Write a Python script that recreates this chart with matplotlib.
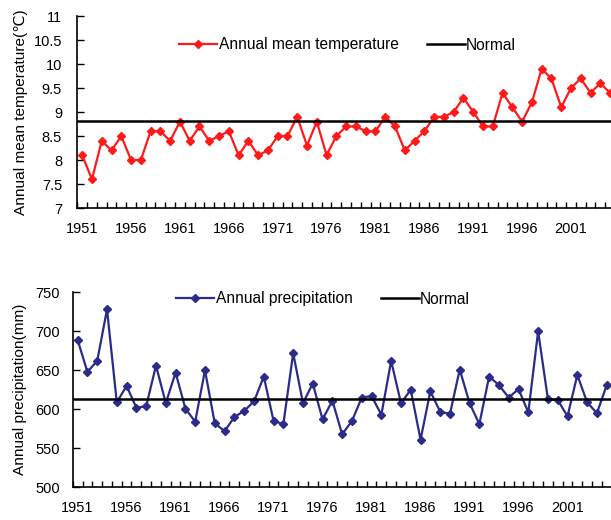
import numpy as np
import matplotlib
matplotlib.use('Agg')
import matplotlib.pyplot as plt

plt.rcParams['font.family'] = ['Liberation Sans', 'DejaVu Sans']

# годы и данные
years = list(range(1951, 2006))
temperature = [8.1, 7.6, 8.4, 8.2, 8.5, 8.0, 8.0, 8.6, 8.6, 8.4,
               8.8, 8.4, 8.7, 8.4, 8.5, 8.6, 8.1, 8.4, 8.1, 8.2,
               8.5, 8.5, 8.9, 8.3, 8.8, 8.1, 8.5, 8.7, 8.7, 8.6,
               8.6, 8.9, 8.7, 8.2, 8.4, 8.6, 8.9, 8.9, 9.0, 9.3,
               9.0, 8.7, 8.7, 9.4, 9.1, 8.8, 9.2, 9.9, 9.7, 9.1,
               9.5, 9.7, 9.4, 9.6, 9.4]
temp_normal = 8.82
precipitation = [689, 648, 662, 728, 609, 630, 602, 604, 656, 608,
                 647, 601, 584, 650, 582, 572, 590, 598, 610, 642,
                 585, 581, 672, 608, 633, 587, 611, 568, 585, 615,
                 617, 593, 662, 608, 625, 561, 623, 597, 594, 651,
                 608, 581, 642, 631, 615, 626, 596, 700, 613, 612,
                 591, 644, 609, 595, 631]
prec_normal = 613.5

label_years = list(range(1951, 2006, 5))

fig = plt.figure(figsize=(6.11, 5.2), dpi=100)
ax1 = fig.add_axes([0.1265, 0.6, 0.88, 0.369])
ax2 = fig.add_axes([0.119, 0.0629, 0.882, 0.375])

x = np.arange(len(years))
fs = 10.5
lfs = 11.2


def style_axis(ax, ypad):
    ax.spines['top'].set_visible(False)
    ax.spines['right'].set_visible(False)
    ax.spines['left'].set_linewidth(1.2)
    ax.spines['bottom'].set_linewidth(1.2)
    ax.set_xlim(-0.5, len(years) - 0.5)
    # деления между категориями, подписи каждые 5 лет
    ax.set_xticks(np.arange(-0.5, len(years), 1.0))
    ax.set_xticklabels([])
    pos = [years.index(y) for y in label_years]
    ax.set_xticks(pos, minor=True)
    ax.set_xticklabels([str(y) for y in label_years], minor=True, fontsize=fs)
    ax.tick_params(axis='x', which='major', direction='in', length=4, width=1)
    ax.tick_params(axis='x', which='minor', length=0, pad=10)
    ax.tick_params(axis='y', direction='in', length=5, width=1, labelsize=fs, pad=ypad)


# температура
ax1.plot(x, temperature, color='#FF1A1A', lw=1.6, marker='D', ms=4.5,
         label='Annual mean temperature')
ax1.axhline(temp_normal, color='black', lw=1.8, label='Normal')
ax1.set_ylim(7, 11)
ax1.set_yticks(np.arange(7, 11.01, 0.5))
ax1.set_yticklabels(['%g' % v for v in np.arange(7, 11.01, 0.5)])
ax1.set_ylabel('Annual mean temperature(℃)', fontsize=11.1, labelpad=4)
style_axis(ax1, 11)
ax1.legend(loc='center left', bbox_to_anchor=(179 / 611, 1 - 45 / 520),
           bbox_transform=fig.transFigure, ncol=2, frameon=False,
           fontsize=lfs, handlelength=2.45, handletextpad=0.1, columnspacing=1.8,
           borderpad=0, borderaxespad=0)

# осадки
ax2.plot(x, precipitation, color='#2B2B8A', lw=1.6, marker='D', ms=4.5,
         label='Annual precipitation')
ax2.axhline(prec_normal, color='black', lw=1.8, label='Normal')
ax2.set_ylim(500, 750)
ax2.set_yticks(np.arange(500, 751, 50))
ax2.set_ylabel('Annual precipitation(mm)', fontsize=11.1, labelpad=6)
style_axis(ax2, 9)
ax2.legend(loc='center left', bbox_to_anchor=(176 / 611, 1 - 299 / 520),
           bbox_transform=fig.transFigure, ncol=2, frameon=False,
           fontsize=lfs, handlelength=2.45, handletextpad=0.1, columnspacing=1.8,
           borderpad=0, borderaxespad=0)

fig.savefig('out.png', dpi=100)
